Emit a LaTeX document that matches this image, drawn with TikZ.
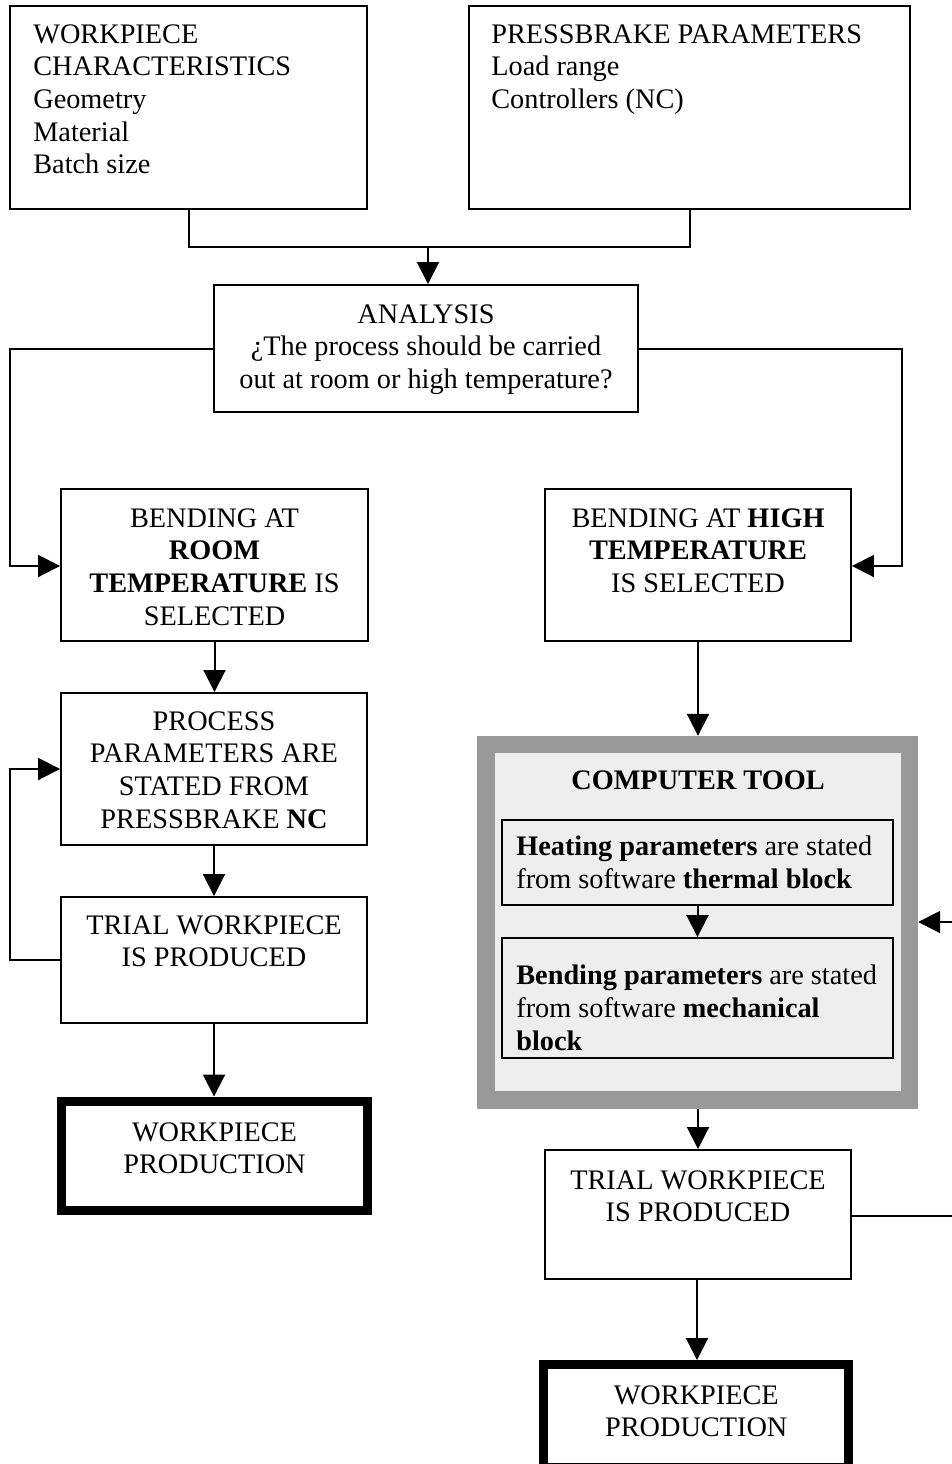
\documentclass[tikz,border=0pt]{standalone}
\usepackage{fontspec}
\setmainfont{Liberation Serif}
\usetikzlibrary{arrows.meta}
\definecolor{ctborder}{HTML}{999999}
\definecolor{ctfill}{HTML}{EEEEEE}
\begin{document}
\begin{tikzpicture}[x=0.02cm,y=-0.02cm,
  every node/.style={font=\fontsize{16.1}{18.6}\selectfont},
  box/.style={draw,line width=0.04cm,inner sep=0pt,rectangle},
  thickbox/.style={draw,line width=0.18cm,inner sep=0pt,rectangle},
  txt/.style={inner sep=0pt,align=center,anchor=north},
  ltxt/.style={inner sep=0pt,align=left,anchor=north west},
  conn/.style={line width=0.04cm},
  arr/.style={line width=0.04cm,-{Triangle[length=0.44cm,width=0.44cm]}}]
\useasboundingbox (0,0) rectangle (952,1464);
% boxes
\node[box,minimum width=7.14cm,minimum height=4.06cm] (wc) at (188.5,107.5) {};
\node[box,minimum width=8.82cm,minimum height=4.06cm] (pp) at (689.5,107.5) {};
\node[box,minimum width=8.48cm,minimum height=2.54cm] (an) at (426,348.5) {};
\node[box,minimum width=6.14cm,minimum height=3.04cm] (room) at (214.5,565) {};
\node[box,minimum width=6.12cm,minimum height=3.04cm] (high) at (698,565) {};
\node[box,minimum width=6.12cm,minimum height=3.04cm] (proc) at (214,769) {};
\node[box,minimum width=6.12cm,minimum height=2.52cm] (trl) at (214,960) {};
\node[thickbox,minimum width=6.12cm,minimum height=2.19cm] (wpl) at (214.5,1155.75) {};
\node[draw=ctborder,fill=ctfill,line width=0.35cm,inner sep=0pt,minimum width=8.47cm,minimum height=7.11cm] (ct) at (697.75,922.25) {};
\node[box,minimum width=7.82cm,minimum height=1.70cm] (heat) at (697.5,862.5) {};
\node[box,minimum width=7.82cm,minimum height=2.40cm] (bend) at (697.5,998) {};
\node[box,minimum width=6.12cm,minimum height=2.58cm] (trr) at (698,1214.5) {};
\node[thickbox,minimum width=6.11cm,minimum height=2.06cm] (wpr) at (696.25,1416) {};
% texts
\node[ltxt] (wct) at (33,24) {WORKPIECE\\CHARACTERISTICS\\Geometry\\Material\\Batch size};
\node[ltxt] (ppt) at (491,24) {PRESSBRAKE PARAMETERS\\Load range\\Controllers (NC)};
\node[txt] (ant) at (426,304) {ANALYSIS\\¿The process should be carried\\out at room or high temperature?};
\node[txt] (roomt) at (214.5,508) {BENDING AT\\\textbf{ROOM}\\\textbf{TEMPERATURE} IS\\SELECTED};
\node[txt] (hight) at (698,508) {BENDING AT \textbf{HIGH}\\\textbf{TEMPERATURE}\\IS SELECTED};
\node[txt] (proct) at (214,711) {PROCESS\\PARAMETERS ARE\\STATED FROM\\PRESSBRAKE \textbf{NC}};
\node[txt] (trlt) at (214,915) {TRIAL WORKPIECE\\IS PRODUCED};
\node[txt] (wplt) at (214.5,1122) {WORKPIECE\\PRODUCTION};
\node[txt] (ctt) at (698,770) {\textbf{COMPUTER TOOL}};
\node[ltxt] (heatt) at (516,836) {\textbf{Heating parameters} are stated\\from software \textbf{thermal block}};
\node[ltxt] (bendt) at (516,965) {\textbf{Bending parameters} are stated\\from software \textbf{mechanical}\\\textbf{block}};
\node[txt] (trrt) at (698,1170) {TRIAL WORKPIECE\\IS PRODUCED};
\node[txt] (wprt) at (696.25,1385) {WORKPIECE\\PRODUCTION};
% connectors
\coordinate (join) at (428,247);
\draw[conn] (wc.south) -- (188.5,247) -- (689.5,247) -- (pp.south);
\draw[arr] (join) -- (join |- an.north);
\draw[arr] (an.west |- 0,349) -- (10,349) -- (10,566) -- (room.west |- 0,566);
\draw[arr] (an.east |- 0,349) -- (902,349) -- (902,566) -- (high.east |- 0,566);
\draw[arr] (room.south) -- (proc.north -| room.south);
\draw[arr] (proc.south) -- (trl.north);
\draw[arr] (trl.south) -- (wpl.north -| trl.south);
\draw[arr] (trl.west) -- (10,960) -- (10,769) -- (proc.west);
\draw[arr] (high.south) -- (ct.north -| high.south);
\draw[arr] (heat.south) -- (bend.north);
\draw[arr] (ct.south -| trr.north) -- (trr.north);
\draw[arr] (trr.south -| 697,0) -- (wpr.north -| 697,0);
\coordinate (fbr) at (970,1216);
\draw[arr] (trr.east |- fbr) -- (fbr) -- (970,922) -- (ct.east |- 0,922);
\end{tikzpicture}
\end{document}
